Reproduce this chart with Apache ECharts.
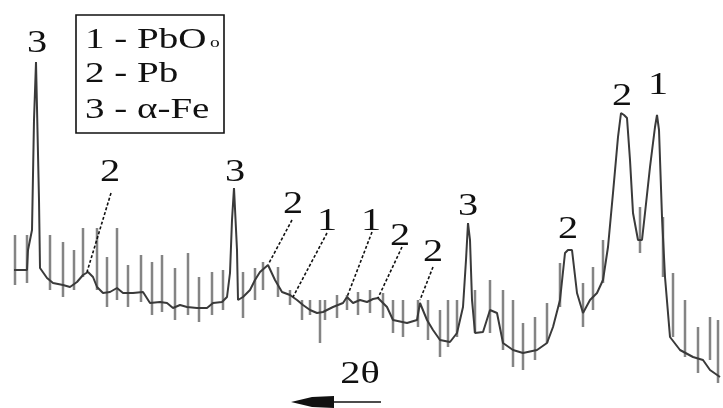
<!DOCTYPE html>
<html>
<head>
<meta charset="utf-8">
<title>XRD pattern</title>
<script src="https://cdn.jsdelivr.net/npm/echarts@6/dist/echarts.min.js"></script>
<style>
  html, body { margin: 0; padding: 0; background: #fff; }
  #chart { width: 723px; height: 408px; }
</style>
</head>
<body>
<div id="chart"></div>
<script>
// Diffractogram trace: scan position (2θ decreases to the right) and intensity
const scanPos = [14, 27, 28, 32, 34, 36, 38, 39, 40, 47, 53, 63, 70, 77, 83, 88, 93, 97, 103, 110,
  117, 123, 133, 143, 150, 160, 167, 173, 180, 187, 197, 207, 213, 222, 227, 230, 232, 234, 236, 237,
  238, 243, 250, 255, 260, 268, 275, 282, 290, 297, 303, 310, 317, 323, 333, 343, 347, 353, 360, 367,
  373, 378, 387, 393, 407, 417, 420, 427, 433, 440, 450, 457, 463, 466, 468, 470, 472, 475, 483, 490,
  497, 503, 513, 523, 537, 547, 553, 560, 565, 568, 572, 577, 583, 590, 597, 603, 608, 613, 618, 621,
  624, 627, 630, 633, 638, 642, 645, 650, 655, 657, 659, 662, 665, 670, 680, 693, 703, 710, 720];
const intensity = [138, 138, 158, 178, 288, 346, 346, 208, 140, 130, 125, 123, 121, 126, 133, 136, 131, 121, 115, 116,
  120, 115, 115, 116, 105, 106, 105, 100, 103, 101, 100, 100, 105, 106, 111, 135, 188, 220, 218, 158,
  108, 111, 118, 128, 136, 143, 128, 116, 113, 108, 103, 98, 95, 96, 101, 105, 111, 105, 108, 106,
  109, 110, 101, 88, 85, 88, 105, 88, 78, 68, 66, 75, 101, 148, 185, 168, 108, 75, 76, 98,
  95, 65, 58, 55, 58, 65, 81, 108, 155, 158, 158, 115, 95, 108, 115, 128, 161, 215, 271, 295,
  293, 290, 248, 195, 168, 168, 195, 241, 281, 293, 278, 191, 131, 71, 58, 51, 48, 38, 31];

// Scan noise: position, low and high intensity of each spike
const noisePos = [15, 27, 50, 63, 74, 83, 97, 107, 117, 128, 141, 152, 162, 175, 188, 199, 212, 223, 243, 255,
  263, 278, 290, 302, 310, 320, 325, 337, 347, 358, 370, 383, 393, 403, 418, 428, 440, 448, 457, 475,
  490, 503, 513, 523, 535, 547, 560, 583, 593, 603, 640, 663, 673, 685, 698, 710, 718];
const noiseLow = [123, 125, 118, 111, 118, 131, 118, 101, 108, 101, 106, 93, 96, 88, 93, 86, 93, 98, 90, 108,
  118, 111, 103, 88, 93, 65, 88, 90, 98, 93, 95, 90, 75, 71, 81, 68, 51, 61, 71, 75,
  75, 58, 41, 38, 48, 65, 101, 81, 98, 125, 155, 131, 71, 51, 35, 48, 25];
const noiseHigh = [173, 173, 173, 166, 158, 180, 180, 151, 180, 143, 153, 146, 153, 140, 155, 131, 136, 138, 136, 140,
  146, 141, 118, 108, 108, 108, 108, 113, 113, 116, 118, 115, 108, 108, 108, 108, 98, 108, 108, 118,
  128, 118, 108, 85, 91, 105, 145, 125, 141, 168, 201, 191, 135, 108, 81, 91, 88];

// Phase labels (1 - PbO, 2 - Pb, 3 - α-Fe) placed above their reflections
const peakPhase = ['3', '2', '3', '2', '1', '1', '2', '2', '3', '2', '2', '1'];
const labelPos = [37, 110, 235, 293, 327, 371, 400, 433, 468, 568, 622, 658];
const labelHeight = [364, 235, 235, 203, 186, 186, 171, 155, 201, 178, 311, 322];

// Dashed leader lines from a label to its reflection
const leaderFromPos = [111, 292, 327, 372, 402, 433];
const leaderFromHeight = [215, 188, 175, 176, 161, 141];
const leaderToPos = [87, 269, 293, 347, 378, 420];
const leaderToHeight = [136, 145, 111, 111, 110, 108];

const SERIF = '"Liberation Serif", "Times New Roman", serif';
const STRETCH = 1.3;

const chart = echarts.init(document.getElementById('chart'), null, { renderer: 'canvas' });

const traceData = scanPos.map((x, i) => [x, intensity[i]]);
const noiseData = noisePos.map((x, i) => [x, noiseLow[i], noiseHigh[i]]);
const labelData = labelPos.map((x, i) => [x, labelHeight[i], peakPhase[i]]);
const leaderData = leaderFromPos.map((x, i) => [x, leaderFromHeight[i], leaderToPos[i], leaderToHeight[i]]);

chart.setOption({
  animation: false,
  backgroundColor: '#ffffff',
  grid: { left: 0, right: 0, top: 0, bottom: 0 },
  xAxis: { type: 'value', min: 0, max: 723, show: false },
  yAxis: { type: 'value', min: 0, max: 408, show: false },
  series: [
    {
      type: 'custom',
      name: 'noise',
      renderItem: (params, api) => {
        const a = api.coord([api.value(0), api.value(1)]);
        const b = api.coord([api.value(0), api.value(2)]);
        return {
          type: 'line',
          shape: { x1: a[0], y1: a[1], x2: b[0], y2: b[1] },
          style: { stroke: '#6e6e6e', lineWidth: 2.5, opacity: 0.85 }
        };
      },
      data: noiseData,
      z: 1
    },
    {
      type: 'line',
      name: 'trace',
      data: traceData,
      symbol: 'none',
      lineStyle: { color: '#3a3a3a', width: 2 },
      z: 2
    },
    {
      type: 'custom',
      name: 'leaders',
      renderItem: (params, api) => {
        const a = api.coord([api.value(0), api.value(1)]);
        const b = api.coord([api.value(2), api.value(3)]);
        return {
          type: 'line',
          shape: { x1: a[0], y1: a[1], x2: b[0], y2: b[1] },
          style: { stroke: '#111', lineWidth: 1.6, lineDash: [3, 2] }
        };
      },
      data: leaderData,
      z: 3
    },
    {
      type: 'custom',
      name: 'phases',
      renderItem: (params, api) => {
        const p = api.coord([api.value(0), api.value(1)]);
        return {
          type: 'text',
          x: p[0],
          y: p[1],
          scaleX: STRETCH,
          style: {
            text: labelData[params.dataIndex][2],
            font: '31px ' + SERIF,
            fill: '#111',
            align: 'center',
            verticalAlign: 'middle'
          }
        };
      },
      data: labelData,
      z: 4
    }
  ],
  graphic: [
    {
      type: 'rect',
      shape: { x: 76, y: 15, width: 148, height: 118 },
      style: { fill: '#fff', stroke: '#111', lineWidth: 1.6 },
      z: 10
    },
    {
      type: 'text', x: 85, y: 40, scaleX: STRETCH, z: 11,
      style: { text: '1 - PbO', font: '30px ' + SERIF, fill: '#111', verticalAlign: 'middle' }
    },
    {
      type: 'text', x: 210, y: 43, scaleX: STRETCH, z: 11,
      style: { text: 'o', font: '15px ' + SERIF, fill: '#111', verticalAlign: 'middle' }
    },
    {
      type: 'text', x: 85, y: 74, scaleX: STRETCH, z: 11,
      style: { text: '2 - Pb', font: '30px ' + SERIF, fill: '#111', verticalAlign: 'middle' }
    },
    {
      type: 'text', x: 85, y: 110, scaleX: STRETCH, z: 11,
      style: { text: '3 - α-Fe', font: '30px ' + SERIF, fill: '#111', verticalAlign: 'middle' }
    },
    {
      type: 'text', x: 360, y: 375, scaleX: STRETCH, z: 11,
      style: { text: '2θ', font: '31px ' + SERIF, fill: '#111', align: 'center', verticalAlign: 'middle' }
    },
    {
      type: 'line',
      shape: { x1: 300, y1: 402, x2: 381, y2: 402 },
      style: { stroke: '#111', lineWidth: 1.5 },
      z: 11
    },
    {
      type: 'polygon',
      shape: { points: [[291, 402], [312, 397], [334, 396], [334, 408], [312, 407]] },
      style: { fill: '#111' },
      z: 11
    }
  ]
});
</script>
</body>
</html>
